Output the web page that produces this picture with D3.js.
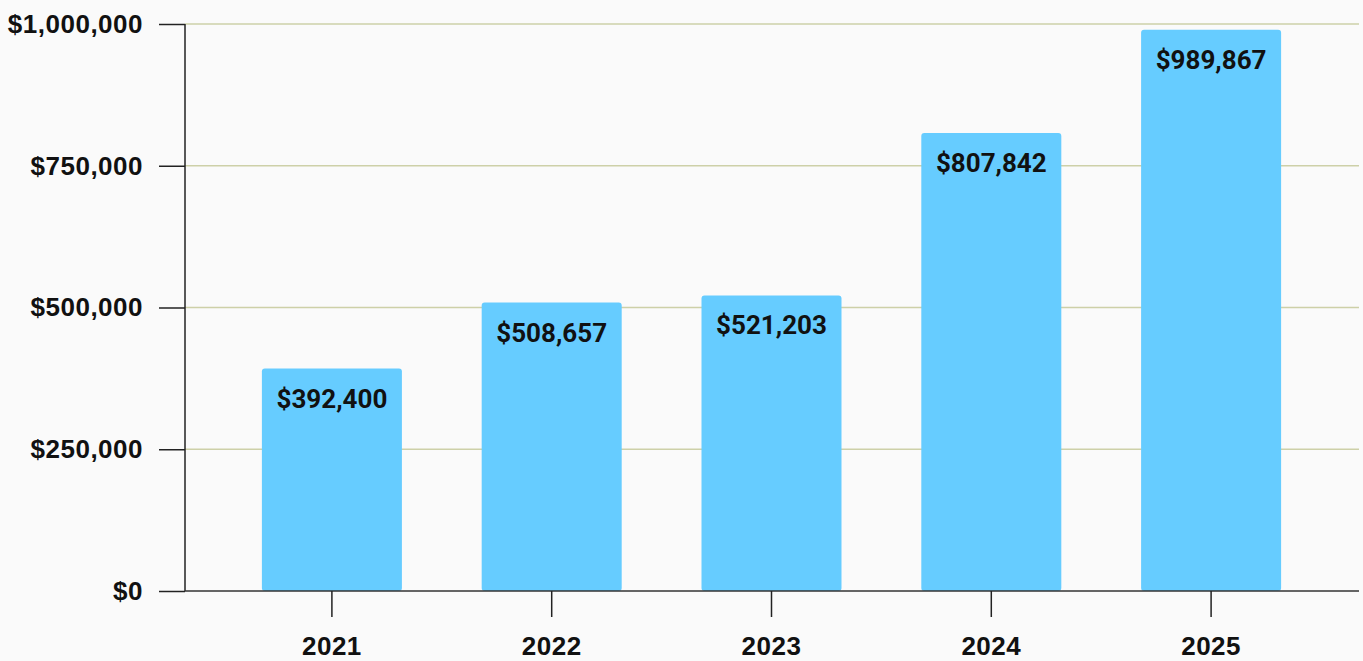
<!DOCTYPE html>
<html>
<head>
<meta charset="utf-8">
<script src="https://cdn.jsdelivr.net/npm/d3@7"></script>
<style>
  html, body { margin: 0; padding: 0; background: #fafafa; }
  svg { display: block; }
</style>
</head>
<body>
<script>
const years = ["2021", "2022", "2023", "2024", "2025"];
const revenue = [392400, 508657, 521203, 807842, 989867];
const yTicks = [0, 250000, 500000, 750000, 1000000];

const W = 1363, H = 661;
const plot = {left: 185, right: 1359, top: 24, bottom: 591};

const svg = d3.select("body").append("svg")
    .attr("width", W)
    .attr("height", H);

const x = d3.scaleBand()
    .domain(years)
    .range([222, 1321])
    .paddingInner(0.363)
    .paddingOuter(0.1815);

const y = d3.scaleLinear()
    .domain([0, 1000000])
    .range([plot.bottom, plot.top]);

const money = v => "$" + d3.format(",")(v);

// gridlines
svg.append("g")
    .selectAll("line")
    .data(yTicks.filter(d => d > 0))
    .enter()
    .append("line")
    .attr("x1", plot.left)
    .attr("x2", plot.right)
    .attr("y1", d => y(d))
    .attr("y2", d => y(d))
    .attr("stroke", "#cdd0a8")
    .attr("stroke-width", 1.5);

// bars
svg.append("g")
    .selectAll("rect")
    .data(revenue)
    .enter()
    .append("rect")
    .attr("x", (d, i) => x(years[i]))
    .attr("y", d => y(d))
    .attr("width", x.bandwidth())
    .attr("height", d => plot.bottom - y(d))
    .attr("rx", 3)
    .attr("fill", "#66ccff");

// value labels
svg.append("g")
    .selectAll("text")
    .data(revenue)
    .enter()
    .append("text")
    .attr("x", (d, i) => x(years[i]) + x.bandwidth() / 2)
    .attr("y", d => y(d) + 39)
    .attr("text-anchor", "middle")
    .attr("font-family", "Roboto, sans-serif")
    .attr("font-weight", 700)
    .attr("font-size", 26)
    .attr("fill", "#111")
    .text(d => money(d));

// y axis
const yAxis = svg.append("g")
    .attr("transform", "translate(" + plot.left + ",0)")
    .call(d3.axisLeft(y).tickValues(yTicks).tickFormat(money).tickSize(26).tickPadding(16));
yAxis.select(".domain").attr("stroke", "#222").attr("stroke-width", 1.5).attr("d", "M0," + plot.top + "V" + plot.bottom);
yAxis.selectAll(".tick line").attr("stroke", "#222").attr("stroke-width", 1.5);
yAxis.selectAll(".tick text")
    .attr("font-family", "'Liberation Sans', Arial, sans-serif")
    .attr("font-weight", "bold")
    .attr("font-size", 26)
    .attr("letter-spacing", 0.5)
    .attr("fill", "#111");

// x axis
const xAxis = svg.append("g")
    .attr("transform", "translate(0," + plot.bottom + ")")
    .call(d3.axisBottom(x).tickSize(26).tickPadding(20));
xAxis.select(".domain").attr("stroke", "#333").attr("stroke-width", 1.5).attr("d", "M" + plot.left + ",0H" + plot.right);
xAxis.selectAll(".tick line").attr("stroke", "#222").attr("stroke-width", 1.5);
xAxis.selectAll(".tick text")
    .attr("font-family", "'Liberation Sans', Arial, sans-serif")
    .attr("font-weight", "bold")
    .attr("font-size", 26)
    .attr("letter-spacing", 0.5)
    .attr("fill", "#111");
</script>
</body>
</html>
